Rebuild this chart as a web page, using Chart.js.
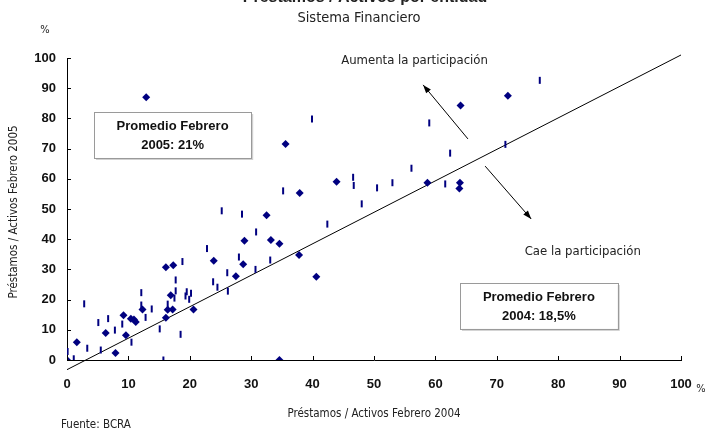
<!DOCTYPE html>
<html>
<head>
<meta charset="utf-8">
<script src="https://cdn.jsdelivr.net/npm/chart.js@4.4.1/dist/chart.umd.min.js"></script>
<style>
  html, body { margin: 0; padding: 0; background: #fff; }
</style>
</head>
<body>
<canvas id="chart" width="705" height="429"></canvas>
<script>
// entities shown as diamonds (x: Feb 2004, y: Feb 2005, %)
const diamondX = [0, 1.6, 6.3, 7.9, 9.2, 9.6, 10.4, 10.9, 11.2, 12.3, 16.1, 16.1, 17.3, 16.9, 16.4, 17.2, 20.6, 23.9,
  27.5, 28.7, 28.9, 32.5, 33.2, 34.6, 37.8, 40.6, 34.6, 12.9, 35.6, 37.9, 43.9, 58.7, 64.0, 63.9, 64.1, 71.8];
const diamondY = [0, 5.9, 8.9, 2.3, 14.8, 8.2, 13.7, 13.4, 12.6, 16.7, 14.0, 30.7, 31.4, 21.4, 16.6, 16.7, 16.7, 32.9,
  27.7, 31.7, 39.5, 47.9, 39.7, 38.5, 34.8, 27.6, 0, 87.0, 71.5, 55.3, 59.0, 58.7, 58.7, 56.8, 84.3, 87.5];

// entities shown as small vertical dashes
const dashX = [0.1, 1.1, 2.8, 3.3, 5.1, 5.5, 6.7, 7.8, 9.0, 10.5, 12.1, 12.1, 12.8, 13.8, 15.1, 15.7, 16.4, 17.7, 17.7,
  17.5, 18.5, 18.8, 19.3, 19.5, 19.9, 20.2, 22.8, 23.8, 24.5, 25.2, 26.1, 26.2, 28.0, 28.5, 30.8, 30.7, 33.1, 35.2,
  39.9, 42.4, 46.6, 46.7, 48.0, 50.5, 53.0, 56.1, 59.0, 61.6, 62.4, 71.4, 77.0];
const dashY = [2.8, 0.4, 18.6, 3.9, 12.4, 3.3, 13.7, 9.9, 11.9, 5.9, 22.3, 18.2, 14.1, 16.9, 10.3, 0, 18.5, 26.5, 22.9,
  20.5, 8.5, 32.6, 21.2, 22.6, 20.1, 22.1, 36.9, 25.9, 24.1, 49.4, 28.9, 22.8, 34.1, 48.3, 42.4, 30.0, 33.1, 56.0,
  79.8, 45.0, 60.5, 57.8, 51.7, 57.0, 58.7, 63.5, 78.5, 58.3, 68.5, 71.4, 92.6];

// reference line
const lineX = [0, 100];
const lineY = [-3.2, 101];

const axisTicks = [0, 10, 20, 30, 40, 50, 60, 70, 80, 90, 100];

const NAVY = '#000080';
const NARROW = '"Liberation Sans Narrow", "DejaVu Sans Condensed", "Liberation Sans", sans-serif';
const BOLD = '"Liberation Sans", Arial, sans-serif';

const toPoints = (xs, ys) => xs.map((v, i) => ({ x: v, y: ys[i] }));

function arrow(ctx, x1, y1, x2, y2) {
  const a = Math.atan2(y2 - y1, x2 - x1);
  ctx.beginPath();
  ctx.moveTo(x1, y1);
  ctx.lineTo(x2, y2);
  ctx.stroke();
  ctx.beginPath();
  ctx.moveTo(x2, y2);
  ctx.lineTo(x2 - 9 * Math.cos(a - 0.35), y2 - 9 * Math.sin(a - 0.35));
  ctx.lineTo(x2 - 9 * Math.cos(a + 0.35), y2 - 9 * Math.sin(a + 0.35));
  ctx.closePath();
  ctx.fill();
}

function box(ctx, x, y, l, t, r, b, lines) {
  const x1 = x.getPixelForValue(l), x2 = x.getPixelForValue(r);
  const y1 = y.getPixelForValue(t), y2 = y.getPixelForValue(b);
  ctx.fillStyle = '#d0d0d0';
  ctx.fillRect(x1 + 2, y1 + 2, x2 - x1, y2 - y1);
  ctx.fillStyle = '#fff';
  ctx.fillRect(x1, y1, x2 - x1, y2 - y1);
  ctx.strokeStyle = '#9a9a9a';
  ctx.lineWidth = 1;
  ctx.strokeRect(Math.round(x1) + 0.5, Math.round(y1) + 0.5, Math.round(x2 - x1), Math.round(y2 - y1));
  ctx.fillStyle = '#111';
  ctx.font = 'bold 13px ' + BOLD;
  ctx.textAlign = 'center';
  ctx.textBaseline = 'middle';
  const cx = (x1 + x2) / 2, h = y2 - y1;
  ctx.fillText(lines[0], cx, y1 + h * 0.31);
  ctx.fillText(lines[1], cx, y1 + h * 0.72);
}

// ticks inside the axes, notes, boxes, arrows and titles
const decor = {
  id: 'decor',
  afterDraw(chart) {
    const { ctx, scales: { x, y } } = chart;
    ctx.save();
    ctx.strokeStyle = '#000';
    ctx.lineWidth = 1;
    ctx.beginPath();
    axisTicks.forEach(v => {
      const px = Math.round(x.getPixelForValue(v)) + 0.5;
      ctx.moveTo(px, y.bottom);
      ctx.lineTo(px, y.bottom - 4);
      const py = Math.round(y.getPixelForValue(v)) + 0.5;
      ctx.moveTo(x.left, py);
      ctx.lineTo(x.left + 4, py);
    });
    ctx.stroke();

    box(ctx, x, y, 4.4, 82.1, 30.0, 66.9, ['Promedio Febrero', '2005: 21%']);
    box(ctx, x, y, 64.0, 25.5, 89.7, 10.3, ['Promedio Febrero', '2004: 18,5%']);

    ctx.strokeStyle = '#000';
    ctx.fillStyle = '#000';
    ctx.lineWidth = 1;
    arrow(ctx, x.getPixelForValue(65.3), y.getPixelForValue(73.2), x.getPixelForValue(58.0), y.getPixelForValue(91.1));
    arrow(ctx, x.getPixelForValue(68.1), y.getPixelForValue(64.2), x.getPixelForValue(75.6), y.getPixelForValue(46.7));

    ctx.fillStyle = '#222';
    ctx.textAlign = 'center';
    ctx.textBaseline = 'middle';
    ctx.font = '13px ' + NARROW;
    ctx.fillText('Aumenta la participación', x.getPixelForValue(56.6), y.getPixelForValue(99.0));
    ctx.fillText('Cae la participación', x.getPixelForValue(84.0), y.getPixelForValue(35.8));

    // titles and labels around the plot
    ctx.font = 'bold 16px ' + BOLD;
    ctx.textBaseline = 'alphabetic';
    ctx.fillText('Préstamos / Activos por entidad', 365, 2);
    ctx.font = '14.5px ' + NARROW;
    ctx.textBaseline = 'middle';
    ctx.fillText('Sistema Financiero', 359, 18);
    ctx.font = '11px ' + NARROW;
    ctx.fillText('%', 45, 30);
    ctx.fillText('%', 701, 389);
    ctx.font = '11.5px ' + NARROW;
    ctx.fillText('Préstamos / Activos Febrero 2004', 374, 414);
    ctx.textAlign = 'left';
    ctx.textBaseline = 'top';
    ctx.fillText('Fuente: BCRA', 61, 419);
    ctx.translate(14, 212);
    ctx.rotate(-Math.PI / 2);
    ctx.textAlign = 'center';
    ctx.textBaseline = 'middle';
    ctx.fillText('Préstamos / Activos Febrero 2005', 0, 0);
    ctx.restore();
  }
};

new Chart(document.getElementById('chart').getContext('2d'), {
  type: 'scatter',
  data: {
    datasets: [
      {
        type: 'line',
        data: toPoints(lineX, lineY),
        borderColor: '#000',
        borderWidth: 1,
        pointRadius: 0,
        clip: false,
        order: 3
      },
      {
        data: toPoints(dashX, dashY),
        pointStyle: 'line',
        rotation: 90,
        pointRadius: 3.5,
        borderWidth: 2,
        borderColor: NAVY,
        backgroundColor: NAVY,
        order: 2
      },
      {
        data: toPoints(diamondX, diamondY),
        pointStyle: 'rectRot',
        pointRadius: 4,
        borderWidth: 0,
        backgroundColor: NAVY,
        borderColor: NAVY,
        order: 1
      }
    ]
  },
  options: {
    responsive: false,
    animation: false,
    layout: { padding: { top: 58, right: 24, bottom: 0, left: 0 } },
    plugins: { legend: { display: false }, tooltip: { enabled: false } },
    scales: {
      x: {
        min: 0, max: 100,
        afterFit: s => { s.height = 69; s.paddingLeft = 0; s.paddingRight = 0; },
        afterBuildTicks: s => { s.ticks = axisTicks.map(v => ({ value: v })); },
        grid: { display: false, drawTicks: false },
        border: { display: true, color: '#000', width: 1 },
        ticks: { padding: 17, color: '#111', font: { family: BOLD, size: 13, weight: 'bold' } }
      },
      y: {
        min: 0, max: 100,
        afterFit: s => { s.width = 67; s.paddingTop = 0; s.paddingBottom = 0; },
        afterBuildTicks: s => { s.ticks = axisTicks.map(v => ({ value: v })); },
        grid: { display: false, drawTicks: false },
        border: { display: true, color: '#000', width: 1 },
        ticks: { padding: 11, color: '#111', font: { family: BOLD, size: 13, weight: 'bold' } }
      }
    }
  },
  plugins: [decor]
});
</script>
</body>
</html>
